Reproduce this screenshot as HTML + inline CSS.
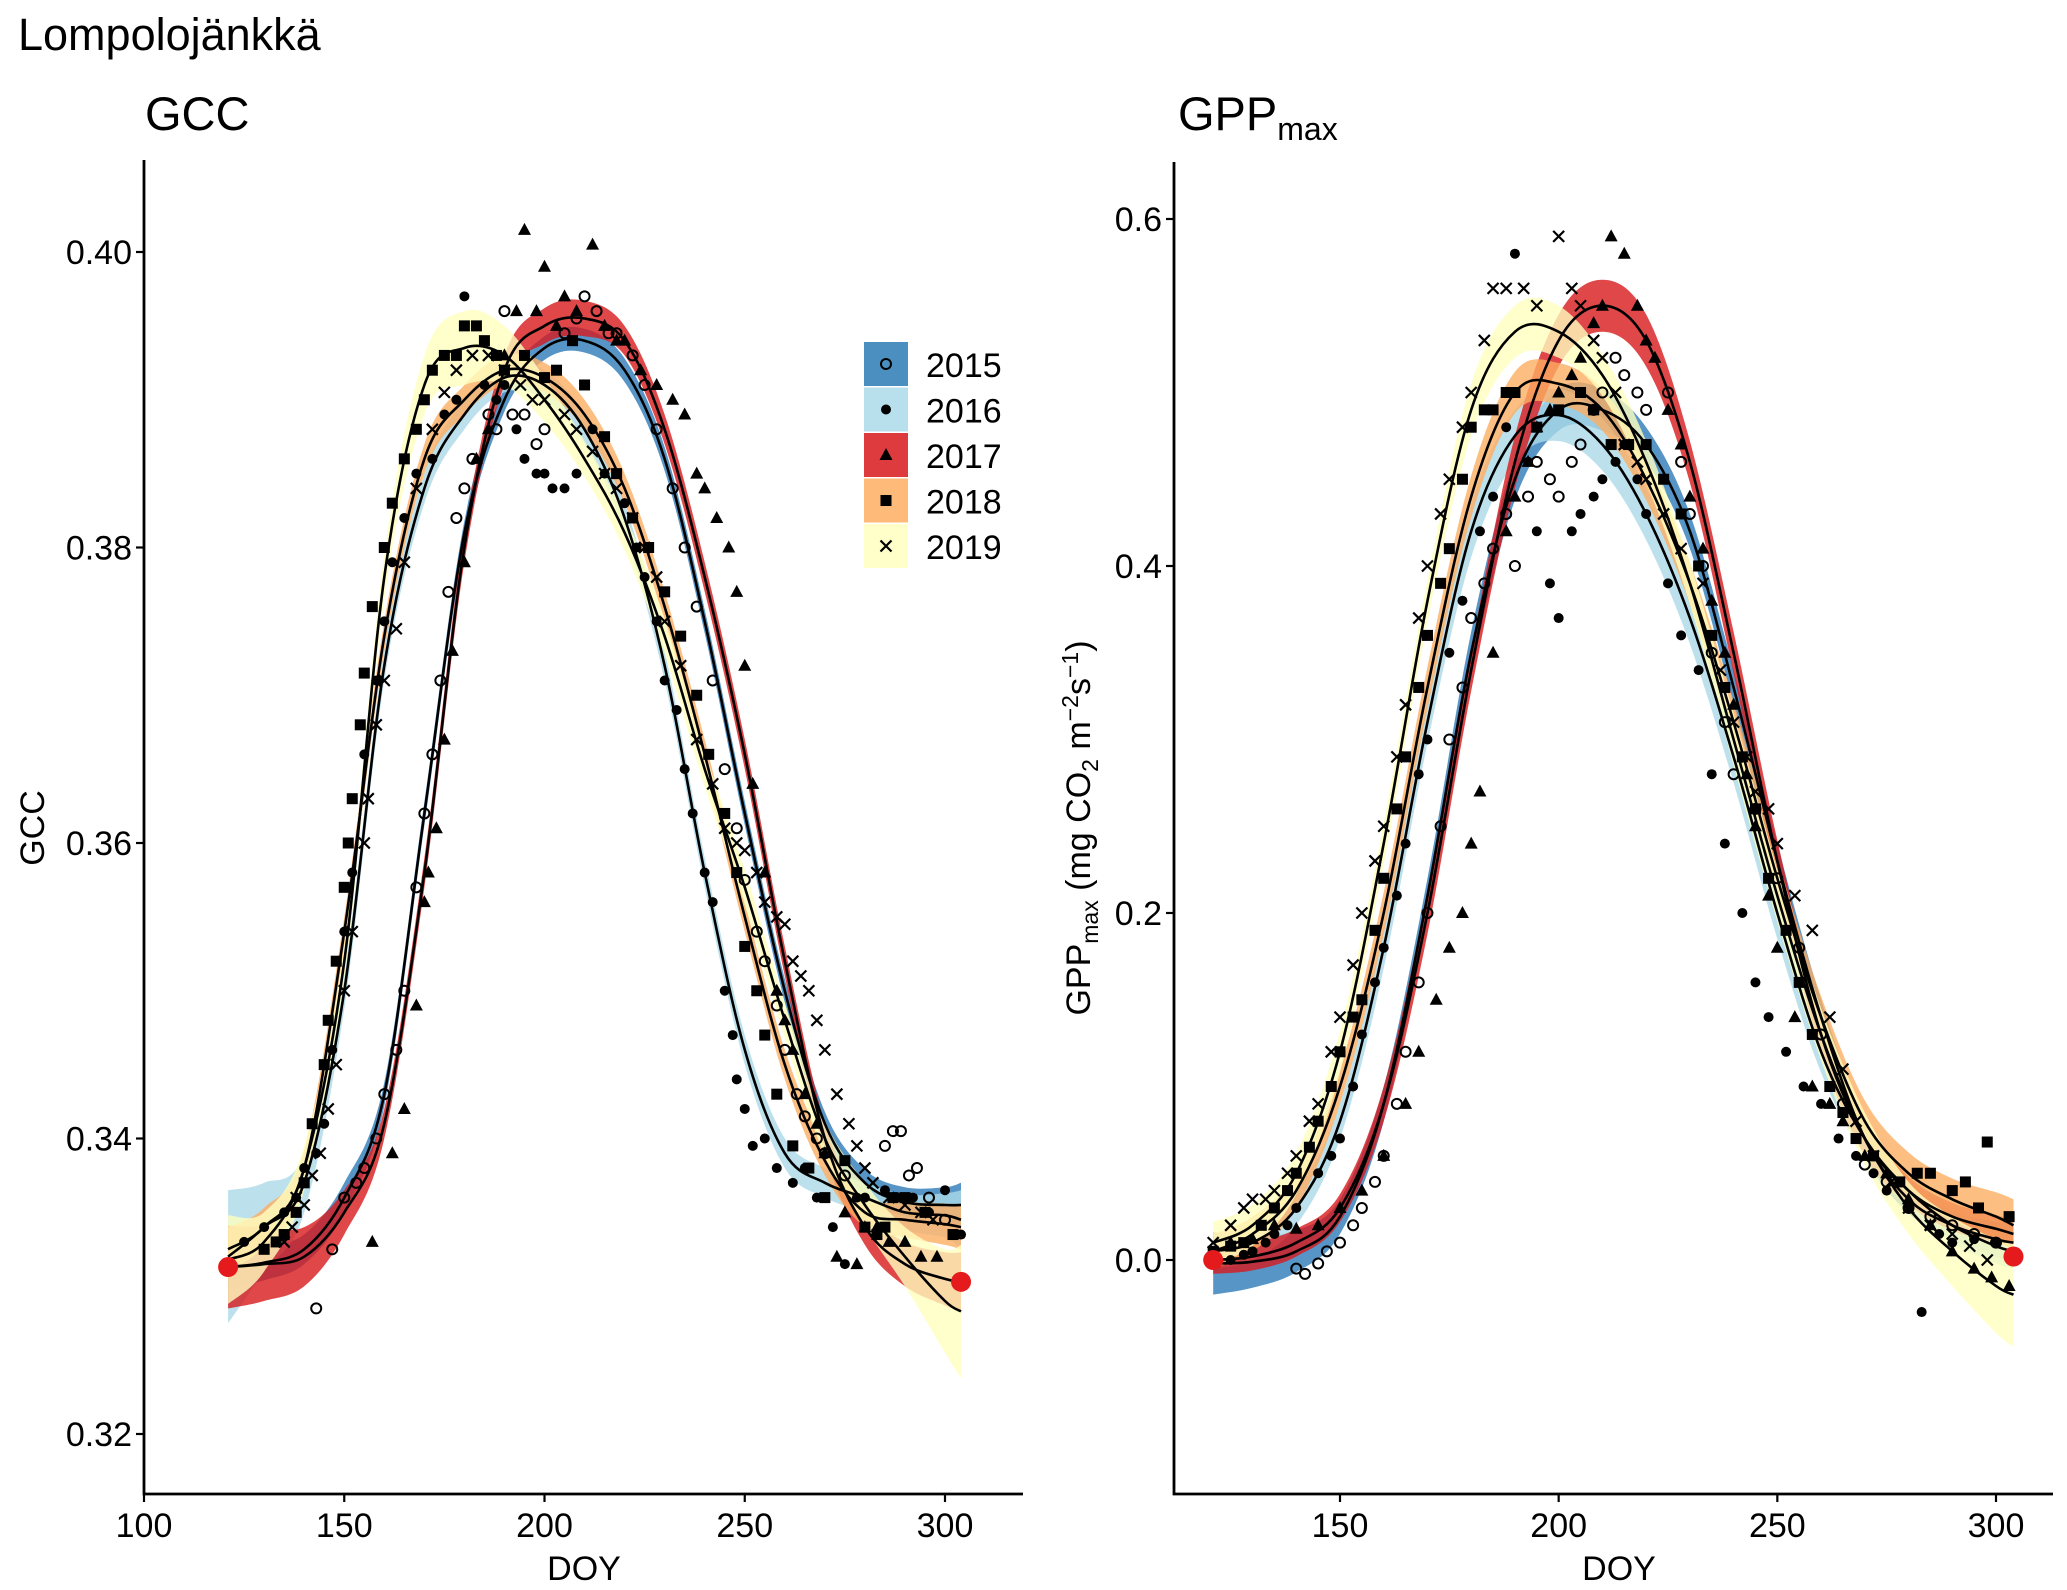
<!DOCTYPE html>
<html><head><meta charset="utf-8">
<style>
html,body{margin:0;padding:0;background:#fff;}
svg{display:block;font-family:"Liberation Sans",Arial,sans-serif;}
</style></head>
<body>
<svg id="fig" width="2067" height="1590" viewBox="0 0 2067 1590">
<text x="18" y="50" font-size="45">Lompolojänkkä</text>
<text x="145" y="130" font-size="47">GCC</text>
<text x="1178" y="130" font-size="47">GPP<tspan font-size="32" dy="10">max</tspan></text>
<g id="p1"></g>
<g id="p2"></g>
<text x="584" y="1580" font-size="34" text-anchor="middle">DOY</text>
<text x="1619" y="1580" font-size="34" text-anchor="middle">DOY</text>
<text transform="translate(44,828) rotate(-90)" font-size="34" text-anchor="middle">GCC</text>
<text transform="translate(1090,828) rotate(-90)" font-size="34" text-anchor="middle">GPP<tspan font-size="23" dy="8">max</tspan><tspan dy="-8"> (mg CO</tspan><tspan font-size="23" dy="8">2</tspan><tspan dy="-8"> m</tspan><tspan font-size="23" dy="-12">−2</tspan><tspan dy="12">s</tspan><tspan font-size="23" dy="-12">−1</tspan><tspan dy="12">)</tspan></text>
<g id="legend"></g>
</svg>
<script>
const years = ["2015","2016","2017","2018","2019"];
const colors = ["#2c7bb6","#abd9e9","#d7191c","#fdae61","#ffffbf"];
const doys = [121,130,140,150,160,170,180,190,200,210,220,230,240,250,260,270,280,290,300,304];

const gccFit2015 = [0.3313,0.3316,0.3325,0.336,0.343,0.362,0.381,0.390,0.3935,0.394,0.392,0.386,0.375,0.362,0.350,0.341,0.337,0.3357,0.3355,0.3355];
const gccFit2016 = [0.332,0.334,0.337,0.350,0.372,0.384,0.389,0.3915,0.391,0.388,0.382,0.372,0.358,0.346,0.339,0.337,0.336,0.335,0.3348,0.3345];
const gccFit2017 = [0.3313,0.3315,0.332,0.335,0.341,0.358,0.380,0.392,0.395,0.3955,0.394,0.388,0.378,0.366,0.352,0.340,0.334,0.3315,0.3305,0.3303];
const gccFit2018 = [0.3325,0.334,0.338,0.354,0.374,0.386,0.390,0.392,0.3915,0.389,0.384,0.376,0.366,0.355,0.345,0.3385,0.335,0.3345,0.3342,0.334];
const gccFit2019 = [0.3318,0.333,0.338,0.352,0.378,0.391,0.3935,0.393,0.390,0.386,0.381,0.374,0.365,0.357,0.348,0.340,0.3355,0.332,0.329,0.3283];
const gccCI2015 = [0.0015,0.0012,0.001,0.001,0.0008,0.0008,0.0008,0.0008,0.0008,0.0008,0.0008,0.0008,0.0008,0.0008,0.0008,0.0008,0.0009,0.001,0.0012,0.0015];
const gccCI2016 = [0.0045,0.003,0.002,0.0012,0.001,0.001,0.001,0.001,0.001,0.001,0.001,0.001,0.001,0.001,0.001,0.001,0.001,0.0012,0.0015,0.002];
const gccCI2017 = [0.0028,0.0025,0.002,0.0015,0.001,0.001,0.001,0.001,0.0012,0.0012,0.001,0.001,0.001,0.001,0.001,0.001,0.0012,0.0015,0.0018,0.002];
const gccCI2018 = [0.0015,0.0013,0.0012,0.001,0.001,0.001,0.001,0.001,0.001,0.001,0.001,0.001,0.001,0.001,0.001,0.001,0.001,0.0012,0.0014,0.0015];
const gccCI2019 = [0.003,0.002,0.0015,0.0012,0.0015,0.002,0.0025,0.002,0.0015,0.0012,0.0012,0.0012,0.0012,0.0012,0.0012,0.0012,0.0015,0.002,0.0035,0.0045];

const gppFit2015 = [-0.002,-0.001,0.005,0.025,0.09,0.21,0.35,0.45,0.49,0.49,0.47,0.42,0.33,0.23,0.14,0.07,0.035,0.02,0.012,0.01];
const gppFit2016 = [0.005,0.01,0.03,0.08,0.18,0.31,0.42,0.475,0.487,0.47,0.43,0.37,0.29,0.20,0.12,0.07,0.04,0.02,0.008,0.005];
const gppFit2017 = [0.0,0.002,0.01,0.03,0.09,0.20,0.34,0.46,0.53,0.55,0.53,0.46,0.35,0.23,0.13,0.07,0.04,0.025,0.018,0.015];
const gppFit2018 = [0.005,0.015,0.04,0.10,0.20,0.33,0.44,0.50,0.505,0.49,0.45,0.39,0.31,0.22,0.14,0.08,0.05,0.035,0.025,0.02];
const gppFit2019 = [0.01,0.02,0.05,0.12,0.24,0.38,0.49,0.535,0.535,0.51,0.46,0.39,0.30,0.21,0.13,0.07,0.03,0.005,-0.015,-0.02];
const gppCI2015 = [0.018,0.015,0.012,0.01,0.01,0.01,0.012,0.012,0.012,0.012,0.01,0.01,0.01,0.01,0.01,0.01,0.008,0.008,0.01,0.01];
const gppCI2016 = [0.01,0.01,0.01,0.01,0.012,0.012,0.015,0.015,0.015,0.015,0.015,0.015,0.015,0.015,0.012,0.01,0.01,0.01,0.01,0.01];
const gppCI2017 = [0.008,0.008,0.008,0.008,0.01,0.012,0.012,0.015,0.015,0.015,0.015,0.012,0.012,0.012,0.01,0.01,0.008,0.008,0.008,0.008];
const gppCI2018 = [0.01,0.01,0.01,0.01,0.012,0.012,0.012,0.012,0.012,0.012,0.012,0.012,0.012,0.012,0.012,0.012,0.012,0.012,0.014,0.015];
const gppCI2019 = [0.012,0.012,0.012,0.012,0.012,0.012,0.015,0.015,0.015,0.012,0.012,0.012,0.015,0.015,0.015,0.015,0.015,0.02,0.027,0.03];

const gccPts2015 = [[143,0.3285],[147,0.3325],[150,0.336],[153,0.337],[155,0.338],[158,0.340],[160,0.343],[163,0.346],[165,0.350],[168,0.357],[170,0.362],[172,0.366],[174,0.371],[176,0.377],[178,0.382],[180,0.384],[182,0.386],[186,0.389],[188,0.388],[190,0.396],[192,0.389],[195,0.389],[198,0.387],[200,0.388],[205,0.3945],[208,0.3955],[210,0.397],[213,0.396],[216,0.3945],[218,0.3945],[222,0.393],[225,0.391],[228,0.388],[232,0.384],[235,0.380],[238,0.376],[242,0.371],[245,0.365],[248,0.361],[250,0.3575],[253,0.354],[255,0.352],[258,0.349],[260,0.346],[263,0.343],[265,0.3415],[268,0.340],[270,0.339],[275,0.3375],[285,0.3395],[287,0.3405],[289,0.3405],[291,0.3375],[293,0.338],[296,0.336],[300,0.3345]];
const gccPts2016 = [[125,0.333],[130,0.334],[135,0.335],[138,0.336],[140,0.338],[143,0.339],[145,0.341],[147,0.346],[150,0.354],[152,0.358],[155,0.366],[158,0.371],[160,0.375],[162,0.379],[165,0.382],[168,0.385],[172,0.386],[175,0.389],[178,0.390],[180,0.397],[185,0.391],[188,0.390],[190,0.391],[193,0.388],[195,0.386],[198,0.385],[200,0.385],[202,0.384],[205,0.384],[208,0.385],[212,0.388],[215,0.385],[220,0.383],[223,0.380],[225,0.378],[228,0.375],[230,0.371],[233,0.369],[235,0.365],[237,0.362],[240,0.358],[242,0.356],[245,0.350],[247,0.347],[248,0.344],[250,0.342],[252,0.3395],[255,0.340],[258,0.338],[262,0.337],[265,0.338],[268,0.336],[272,0.334],[275,0.3315],[278,0.336],[280,0.336],[285,0.3365],[288,0.336],[292,0.336],[296,0.335],[300,0.3365],[304,0.3335]];
const gccPts2017 = [[157,0.333],[162,0.339],[165,0.342],[168,0.349],[170,0.356],[171,0.358],[173,0.361],[175,0.367],[177,0.373],[180,0.379],[183,0.386],[186,0.388],[190,0.393],[193,0.396],[195,0.4015],[198,0.396],[200,0.399],[203,0.395],[205,0.397],[208,0.396],[212,0.4005],[215,0.395],[218,0.394],[220,0.394],[224,0.392],[228,0.391],[232,0.390],[235,0.389],[238,0.385],[240,0.384],[243,0.382],[246,0.380],[248,0.377],[250,0.372],[252,0.364],[255,0.358],[258,0.350],[260,0.348],[262,0.346],[265,0.343],[268,0.341],[270,0.339],[273,0.332],[275,0.335],[278,0.3315],[280,0.334],[283,0.334],[286,0.333],[290,0.333],[294,0.332],[298,0.332]];
const gccPts2018 = [[130,0.3325],[133,0.333],[135,0.3335],[138,0.335],[140,0.337],[142,0.341],[145,0.345],[146,0.348],[148,0.352],[150,0.357],[151,0.360],[152,0.363],[154,0.368],[155,0.3715],[157,0.376],[160,0.380],[162,0.383],[165,0.386],[168,0.388],[170,0.390],[172,0.392],[175,0.393],[178,0.393],[180,0.395],[183,0.395],[185,0.394],[188,0.393],[190,0.392],[195,0.393],[200,0.3915],[203,0.392],[207,0.394],[210,0.391],[215,0.3875],[218,0.385],[222,0.382],[226,0.380],[230,0.377],[234,0.374],[238,0.370],[241,0.366],[245,0.362],[248,0.358],[250,0.353],[253,0.350],[255,0.347],[258,0.343],[262,0.3395],[266,0.338],[270,0.336],[275,0.3385],[280,0.334],[283,0.3335],[285,0.334],[287,0.336],[290,0.336],[295,0.335],[302,0.3335]];
const gccPts2019 = [[135,0.333],[137,0.334],[138,0.336],[140,0.3355],[142,0.3375],[144,0.339],[146,0.342],[148,0.345],[150,0.350],[152,0.354],[155,0.360],[156,0.363],[158,0.368],[160,0.371],[163,0.3745],[165,0.379],[168,0.384],[172,0.388],[175,0.3905],[178,0.392],[182,0.393],[186,0.393],[190,0.392],[194,0.391],[197,0.390],[200,0.390],[205,0.389],[208,0.388],[212,0.3865],[215,0.385],[218,0.384],[222,0.382],[225,0.380],[228,0.378],[230,0.375],[234,0.372],[238,0.367],[242,0.364],[245,0.361],[248,0.360],[250,0.3595],[253,0.358],[255,0.356],[258,0.355],[260,0.3545],[262,0.352],[264,0.351],[266,0.350],[268,0.348],[270,0.346],[273,0.343],[276,0.341],[278,0.3395],[280,0.338],[282,0.337],[286,0.336],[290,0.3355],[294,0.335],[297,0.3345]];

const gppPts2015 = [[140,-0.005],[142,-0.008],[145,-0.002],[147,0.005],[150,0.01],[153,0.02],[155,0.03],[158,0.045],[160,0.06],[163,0.09],[165,0.12],[168,0.16],[170,0.20],[173,0.25],[175,0.30],[178,0.33],[180,0.37],[183,0.39],[185,0.41],[188,0.43],[190,0.40],[193,0.44],[195,0.46],[198,0.45],[200,0.44],[203,0.46],[205,0.47],[208,0.49],[210,0.50],[213,0.52],[215,0.51],[218,0.50],[220,0.49],[225,0.50],[228,0.46],[230,0.43],[233,0.40],[235,0.35],[238,0.31],[240,0.28],[245,0.26],[250,0.22],[255,0.18],[260,0.13],[265,0.09],[270,0.055],[275,0.045],[280,0.03],[285,0.025],[290,0.02],[295,0.015],[300,0.01]];
const gppPts2016 = [[121,0.0],[125,0.0],[128,0.003],[130,0.005],[133,0.01],[135,0.015],[138,0.02],[140,0.03],[145,0.05],[148,0.06],[150,0.07],[153,0.10],[155,0.13],[158,0.16],[160,0.18],[163,0.21],[165,0.24],[168,0.28],[170,0.30],[175,0.35],[178,0.38],[182,0.42],[185,0.44],[188,0.48],[190,0.58],[193,0.46],[195,0.42],[198,0.39],[200,0.37],[203,0.42],[205,0.43],[208,0.44],[210,0.45],[213,0.46],[215,0.47],[218,0.45],[220,0.43],[225,0.39],[228,0.36],[232,0.34],[235,0.28],[238,0.24],[242,0.20],[245,0.16],[248,0.14],[252,0.12],[256,0.10],[260,0.09],[264,0.07],[268,0.06],[272,0.05],[275,0.04],[280,0.03],[283,-0.03],[287,0.015],[290,0.01],[295,0.012],[300,0.01]];
const gppPts2017 = [[125,0.01],[130,0.012],[135,0.02],[140,0.018],[145,0.02],[150,0.03],[155,0.04],[160,0.06],[165,0.09],[168,0.12],[172,0.15],[175,0.18],[178,0.20],[180,0.24],[182,0.27],[185,0.35],[188,0.42],[190,0.44],[193,0.46],[195,0.48],[198,0.49],[200,0.50],[203,0.51],[205,0.52],[208,0.54],[210,0.55],[212,0.59],[215,0.58],[218,0.55],[220,0.53],[222,0.52],[225,0.49],[228,0.47],[230,0.44],[233,0.41],[235,0.38],[238,0.35],[240,0.32],[243,0.28],[245,0.25],[248,0.21],[250,0.18],[254,0.14],[258,0.10],[262,0.09],[265,0.08],[270,0.06],[275,0.05],[280,0.035],[285,0.02],[290,0.005],[295,-0.005],[299,-0.01],[303,-0.015]];
const gppPts2018 = [[121,0.005],[125,0.008],[128,0.01],[132,0.02],[135,0.03],[138,0.04],[140,0.05],[143,0.065],[145,0.08],[148,0.10],[150,0.12],[153,0.14],[155,0.15],[158,0.19],[160,0.22],[163,0.26],[165,0.29],[168,0.33],[170,0.36],[173,0.39],[175,0.41],[178,0.45],[180,0.48],[183,0.49],[185,0.49],[188,0.50],[190,0.50],[195,0.48],[200,0.49],[205,0.50],[208,0.49],[212,0.47],[216,0.47],[220,0.47],[224,0.45],[228,0.43],[232,0.40],[235,0.36],[238,0.33],[242,0.29],[245,0.26],[248,0.22],[252,0.19],[255,0.16],[258,0.13],[262,0.10],[265,0.085],[268,0.07],[272,0.06],[278,0.045],[282,0.05],[285,0.05],[290,0.04],[293,0.045],[296,0.03],[298,0.068],[303,0.025]];
const gppPts2019 = [[121,0.01],[125,0.02],[128,0.03],[130,0.035],[133,0.035],[135,0.04],[138,0.05],[140,0.06],[143,0.08],[145,0.09],[148,0.12],[150,0.14],[153,0.17],[155,0.20],[158,0.23],[160,0.25],[163,0.29],[165,0.32],[168,0.37],[170,0.40],[173,0.43],[175,0.45],[178,0.48],[180,0.50],[183,0.53],[185,0.56],[188,0.56],[192,0.56],[195,0.55],[200,0.59],[203,0.56],[205,0.55],[208,0.53],[210,0.52],[213,0.50],[215,0.47],[218,0.46],[220,0.45],[224,0.43],[228,0.41],[233,0.39],[237,0.34],[240,0.31],[243,0.29],[245,0.27],[248,0.26],[250,0.24],[254,0.21],[258,0.19],[262,0.14],[265,0.11],[268,0.08],[272,0.06],[276,0.045],[280,0.03],[285,0.02],[290,0.015],[294,0.008],[298,0.0]];

const gccEnds = [[121,0.3313],[304,0.3303]];
const gppEnds = [[121,0.0],[304,0.002]];
const gccTicksY = [0.32,0.34,0.36,0.38,0.40];
const gccTickLabelsY = ["0.32","0.34","0.36","0.38","0.40"];
const gppTicksY = [0.0,0.2,0.4,0.6];
const gppTickLabelsY = ["0.0","0.2","0.4","0.6"];
const gccTicksX = [100,150,200,250,300];
const gppTicksX = [150,200,250,300];

const NS = "http://www.w3.org/2000/svg";
function mk(tag, attrs, parent){const e=document.createElementNS(NS,tag);for(const k in attrs)e.setAttribute(k,attrs[k]);parent.appendChild(e);return e;}
function lin(d0,d1,r0,r1){return v=>r0+(v-d0)*(r1-r0)/(d1-d0);}
function smooth(pts){
  let d="M"+pts[0][0].toFixed(1)+","+pts[0][1].toFixed(1);
  for(let i=0;i<pts.length-1;i++){
    const p0=pts[Math.max(0,i-1)],p1=pts[i],p2=pts[i+1],p3=pts[Math.min(pts.length-1,i+2)];
    const c1=[p1[0]+(p2[0]-p0[0])/6,p1[1]+(p2[1]-p0[1])/6];
    const c2=[p2[0]-(p3[0]-p1[0])/6,p2[1]-(p3[1]-p1[1])/6];
    d+="C"+c1[0].toFixed(1)+","+c1[1].toFixed(1)+" "+c2[0].toFixed(1)+","+c2[1].toFixed(1)+" "+p2[0].toFixed(1)+","+p2[1].toFixed(1);
  }
  return d;
}
function marker(g,yi,px,py){
  let e;
  if(yi===0){e=mk("circle",{cx:px,cy:py,r:5,fill:"none",stroke:"#000","stroke-width":2},g);}
  else if(yi===1){e=mk("circle",{cx:px,cy:py,r:5,fill:"#000"},g);}
  else if(yi===2){e=mk("polygon",{points:`${px},${py-7} ${px-6.5},${py+5} ${px+6.5},${py+5}`,fill:"#000"},g);}
  else if(yi===3){e=mk("rect",{x:px-5.5,y:py-5.5,width:11,height:11,fill:"#000"},g);}
  else {e=mk("path",{d:`M${px-5.5},${py-5.5}L${px+5.5},${py+5.5}M${px-5.5},${py+5.5}L${px+5.5},${py-5.5}`,stroke:"#000","stroke-width":2.2,fill:"none"},g);}
  return e;
}
function panel(gid,cfg){
  const g=document.getElementById(gid);
  const sx=lin(cfg.xd[0],cfg.xd[1],cfg.xr[0],cfg.xr[1]);
  const sy=lin(cfg.yd[0],cfg.yd[1],cfg.yr[0],cfg.yr[1]);
  cfg.fits.forEach((f,yi)=>{
    const up=doys.map((d,i)=>[sx(d),sy(f[i]+cfg.cis[yi][i])]);
    const lo=doys.map((d,i)=>[sx(d),sy(f[i]-cfg.cis[yi][i])]).reverse();
    const p=mk("path",{d:smooth(up)+smooth(lo).replace("M","L")+"Z",fill:colors[yi],"fill-opacity":0.8},g);
    
    
  });
  cfg.pts.forEach((arr,yi)=>{
    const pg=mk("g",{},g);
    
    
    arr.forEach(pt=>{marker(pg,yi,sx(pt[0]),sy(pt[1]));});
  });
  cfg.fits.forEach((f,yi)=>{
    const p=mk("path",{d:smooth(doys.map((d,i)=>[sx(d),sy(f[i])])),fill:"none",stroke:"#000","stroke-width":2.6},g);
    
    
  });
  cfg.ends.forEach(e=>{
    const c=mk("circle",{cx:sx(e[0]),cy:sy(e[1]),r:10,fill:"#e41a1c"},g);
    
    
  });
  const ax=mk("path",{d:`M${cfg.xr0},${cfg.axisTop}V${cfg.axisY}H${cfg.axisRight}`,stroke:"#000","stroke-width":2.8,fill:"none"},g);
  
  
  cfg.ty.forEach((t,i)=>{
    const y=sy(t);
    mk("line",{x1:cfg.xr0-8,x2:cfg.xr0,y1:y,y2:y,stroke:"#000","stroke-width":2.2},g);
    const tx=mk("text",{x:cfg.xr0-12,y:y+12,"font-size":34,"text-anchor":"end"},g);
    tx.textContent=cfg.tyl[i];
    
    
  });
  cfg.tx.forEach(t=>{
    const x=sx(t);
    mk("line",{x1:x,x2:x,y1:cfg.axisY,y2:cfg.axisY+8,stroke:"#000","stroke-width":2.2},g);
    const tx=mk("text",{x:x,y:cfg.axisY+43,"font-size":34,"text-anchor":"middle"},g);
    tx.textContent=String(t);
    
    
  });
}
panel("p1",{xd:[100,300],xr:[144,945],yd:[0.32,0.40],yr:[1434,252],
  fits:[gccFit2015,gccFit2016,gccFit2017,gccFit2018,gccFit2019],
  cis:[gccCI2015,gccCI2016,gccCI2017,gccCI2018,gccCI2019],
  pts:[gccPts2015,gccPts2016,gccPts2017,gccPts2018,gccPts2019],
  ends:gccEnds,ty:gccTicksY,tyl:gccTickLabelsY,tx:gccTicksX,
  xr0:144,axisTop:160,axisY:1494,axisRight:1023});
panel("p2",{xd:[150,300],xr:[1340,1996],yd:[0.0,0.6],yr:[1260,219],
  fits:[gppFit2015,gppFit2016,gppFit2017,gppFit2018,gppFit2019],
  cis:[gppCI2015,gppCI2016,gppCI2017,gppCI2018,gppCI2019],
  pts:[gppPts2015,gppPts2016,gppPts2017,gppPts2018,gppPts2019],
  ends:gppEnds,ty:gppTicksY,tyl:gppTickLabelsY,tx:gppTicksX,
  xr0:1174,axisTop:162,axisY:1494,axisRight:2053});
const lg=document.getElementById("legend");
years.forEach((y,i)=>{
  const top=342+i*45.5;
  const r=mk("rect",{x:864,y:top,width:44,height:44,fill:colors[i],"fill-opacity":0.85},lg);
  
  
  marker(lg,i,886,top+22);
  const t=mk("text",{x:926,y:top+35,"font-size":34},lg);
  t.textContent=y;
  
  
});
</script>
</body></html>
